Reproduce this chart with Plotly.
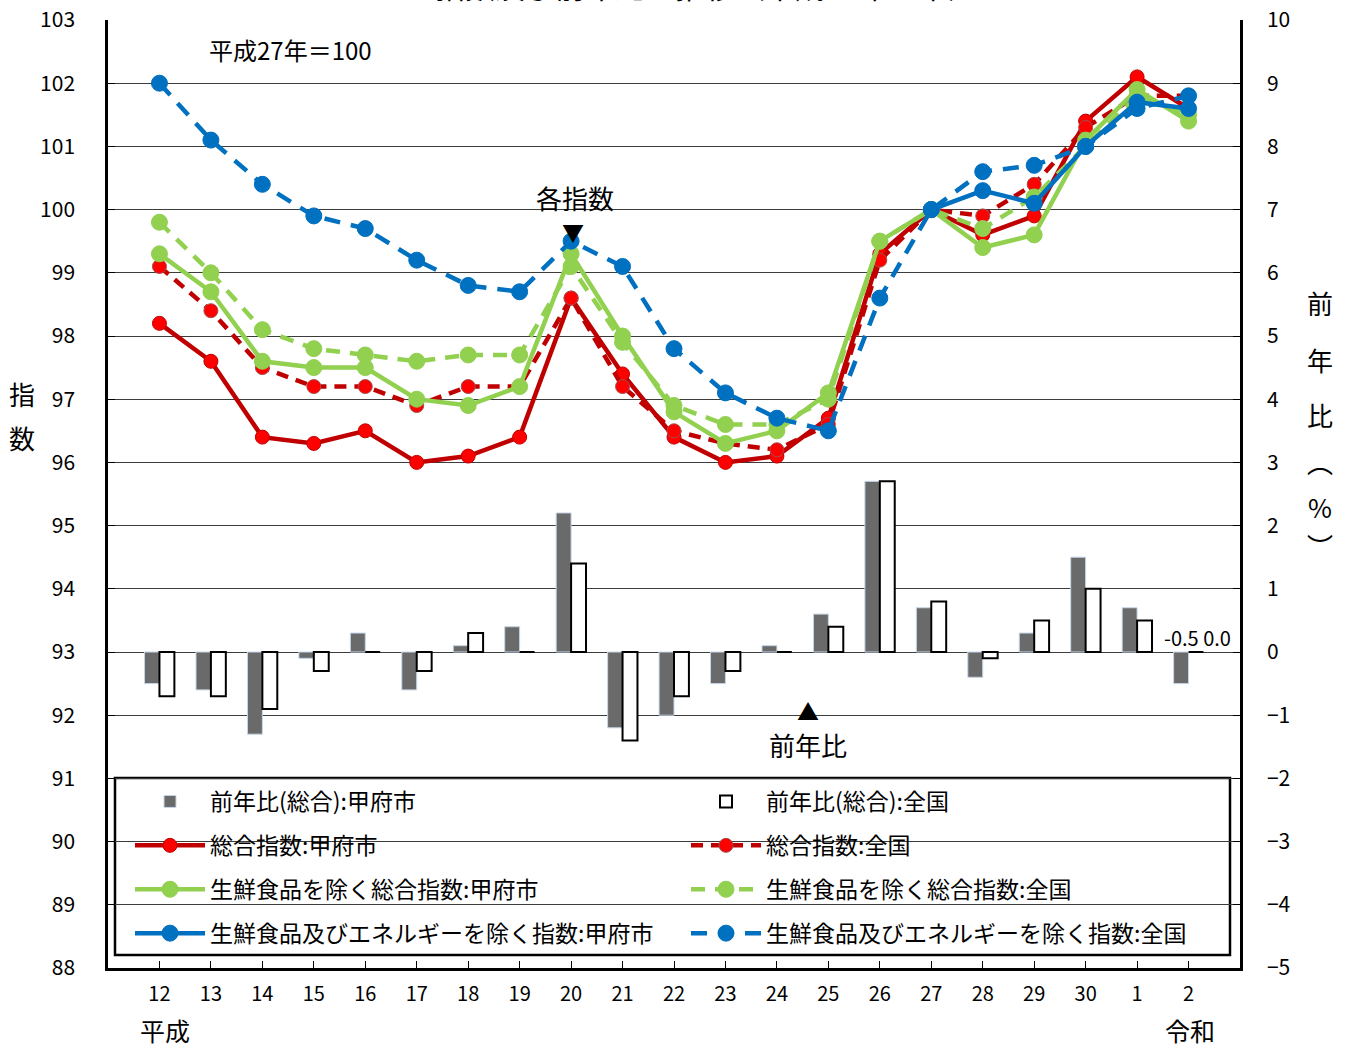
import plotly.graph_objects as go

categories = ["12", "13", "14", "15", "16", "17", "18", "19", "20", "21",
              "22", "23", "24", "25", "26", "27", "28", "29", "30", "1", "2"]

# 前年比（総合）(%)
yoy_kofu = [-0.5, -0.6, -1.3, -0.1, 0.3, -0.6, 0.1, 0.4, 2.2, -1.2,
            -1.0, -0.5, 0.1, 0.6, 2.7, 0.7, -0.4, 0.3, 1.5, 0.7, -0.5]
yoy_japan = [-0.7, -0.7, -0.9, -0.3, 0.0, -0.3, 0.3, 0.0, 1.4, -1.4,
             -0.7, -0.3, 0.0, 0.4, 2.7, 0.8, -0.1, 0.5, 1.0, 0.5, 0.0]

# 総合指数
total_kofu = [98.2, 97.6, 96.4, 96.3, 96.5, 96.0, 96.1, 96.4, 98.6, 97.4,
              96.4, 96.0, 96.1, 96.7, 99.3, 100.0, 99.6, 99.9, 101.4, 102.1, 101.6]
total_japan = [99.1, 98.4, 97.5, 97.2, 97.2, 96.9, 97.2, 97.2, 98.6, 97.2,
               96.5, 96.3, 96.2, 96.6, 99.2, 100.0, 99.9, 100.4, 101.3, 101.8, 101.8]

# 生鮮食品を除く総合指数
core_kofu = [99.3, 98.7, 97.6, 97.5, 97.5, 97.0, 96.9, 97.2, 99.3, 98.0,
             96.8, 96.3, 96.5, 97.1, 99.5, 100.0, 99.4, 99.6, 101.1, 101.9, 101.4]
core_japan = [99.8, 99.0, 98.1, 97.8, 97.7, 97.6, 97.7, 97.7, 99.1, 97.9,
              96.9, 96.6, 96.6, 97.0, 99.5, 100.0, 99.7, 100.2, 101.0, 101.8, 101.5]

# 生鮮食品及びエネルギーを除く指数
cc_kofu = [None, None, None, None, None, None, None, None, None, None,
           None, None, None, None, None, 100.0, 100.3, 100.1, 101.0, 101.7, 101.6]
cc_japan = [102.0, 101.1, 100.4, 99.9, 99.7, 99.2, 98.8, 98.7, 99.5, 99.1,
            97.8, 97.1, 96.7, 96.5, 98.6, 100.0, 100.6, 100.7, 101.0, 101.6, 101.8]

left_ticks = list(range(88, 104))
right_ticks = list(range(-5, 11))

xs = list(range(len(categories)))
FONT = "Noto Sans CJK JP"

RED_LINE = "#C00000"
RED_MK = "#FF0000"
GREEN = "#92D050"
BLUE = "#0070C0"

fig = go.Figure()

fig.add_trace(go.Bar(
    x=xs, y=yoy_kofu, name="前年比(総合):甲府市", yaxis="y",
    marker=dict(color="#6a6a6a", line=dict(color="#c6d6ea", width=1)),
    legend="legend", legendgroup="g1"))
fig.add_trace(go.Bar(
    x=xs, y=yoy_japan, name="前年比(総合):全国", yaxis="y",
    marker=dict(color="white", line=dict(color="black", width=2)),
    legend="legend2", legendgroup="g2"))

def line_trace(vals, name, color, mk, dash, size, mkline, legend, grp):
    return go.Scatter(
        x=xs, y=vals, name=name, yaxis="y2", mode="lines+markers",
        line=dict(color=color, width=4.5, dash=dash),
        marker=dict(color=mk, size=size, line=dict(color=mkline, width=1)),
        connectgaps=False, legend=legend, legendgroup=grp)

fig.add_trace(line_trace(total_kofu, "総合指数:甲府市", RED_LINE, RED_MK, "solid", 14,
                         "#C00000", "legend", "g3"))
fig.add_trace(line_trace(total_japan, "総合指数:全国", RED_LINE, RED_MK, "12px,8px", 14,
                         "#a05050", "legend2", "g4"))
fig.add_trace(line_trace(core_kofu, "生鮮食品を除く総合指数:甲府市", GREEN, GREEN, "solid", 16,
                         GREEN, "legend", "g5"))
fig.add_trace(line_trace(core_japan, "生鮮食品を除く総合指数:全国", GREEN, GREEN, "14px,10px", 16,
                         GREEN, "legend2", "g6"))
fig.add_trace(line_trace(cc_kofu, "生鮮食品及びエネルギーを除く指数:甲府市", BLUE, BLUE, "solid", 16,
                         BLUE, "legend", "g7"))
fig.add_trace(line_trace(cc_japan, "生鮮食品及びエネルギーを除く指数:全国", BLUE, BLUE, "16px,11px", 16,
                         BLUE, "legend2", "g8"))

PW, PH, L, T = 1132, 948, 108, 20

def px(xp):
    return (xp - L) / PW

def py(yp):
    return (T + PH - yp) / PH

ann = []
def add(text, x, y, size, yanchor="middle"):
    ann.append(dict(text=text, x=px(x), y=py(y), xref="paper", yref="paper",
                    xanchor="center", yanchor=yanchor, showarrow=False,
                    font=dict(family=FONT, size=size, color="black")))

add("指数及び前年比の推移（平成27年基準）", 706, 9, 30, yanchor="bottom")
add("平成27年＝100", 290, 49, 24)
add("各指数", 575, 197, 26)
add("▼", 573, 231, 22)
add("▲", 808, 710, 22)
add("前年比", 808, 745, 26)
add("平成", 165, 1030, 25)
add("令和", 1190, 1030, 25)
add("指", 22, 393, 26)
add("数", 22, 437, 26)
for ch, yy in zip(["前", "年", "比", "︵", "%", "︶"], [303, 359, 414, 462, 506, 545]):
    add(ch, 1320, yy, 26)

ann.append(dict(text="-0.5 0.0", x=xs[-1], y=yoy_japan[-1], xref="x", yref="y",
                xanchor="center", yanchor="middle",
                xshift=9, yshift=15, showarrow=False,
                font=dict(family=FONT, size=20, color="black")))

fig.update_layout(
    width=1353, height=1050, autosize=False,
    margin=dict(l=L, r=1353 - L - PW, t=T, b=1050 - T - PH, pad=0, autoexpand=False),
    paper_bgcolor="white", plot_bgcolor="white",
    font=dict(family=FONT, color="black"),
    barmode="group", bargap=0.42, bargroupgap=0,
    xaxis=dict(range=[-1, 21], tickmode="array", tickvals=xs, ticktext=categories,
               showgrid=False, zeroline=False, showline=True, linecolor="black",
               linewidth=2.5, ticks="inside", ticklen=7, tickcolor="black",
               tickfont=dict(family=FONT, size=20), ticklabelstandoff=6),
    yaxis=dict(range=[-5, 10], side="right", tickmode="array", tickvals=right_ticks,
               showgrid=True, gridcolor="#3c3c3c", gridwidth=1, zeroline=False,
               showline=True, linecolor="black", linewidth=2.5, ticks="inside",
               ticklen=7, tickcolor="black", tickfont=dict(family=FONT, size=21),
               ticklabelstandoff=20),
    yaxis2=dict(range=[88, 103], side="left", overlaying="y", tickmode="array",
                tickvals=left_ticks, showgrid=False, zeroline=False, showline=True,
                linecolor="black", linewidth=2.5, ticks="inside", ticklen=7,
                tickcolor="black", tickfont=dict(family=FONT, size=21),
                ticklabelstandoff=26),
    legend=dict(x=px(130), y=py(780), xanchor="left", yanchor="top",
                orientation="v", bgcolor="rgba(0,0,0,0)", borderwidth=0,
                font=dict(family=FONT, size=23), itemwidth=70, tracegroupgap=11,
                traceorder="grouped"),
    legend2=dict(x=px(686), y=py(780), xanchor="left", yanchor="top",
                 orientation="v", bgcolor="rgba(0,0,0,0)", borderwidth=0,
                 font=dict(family=FONT, size=23), itemwidth=70, tracegroupgap=11,
                 traceorder="grouped"),
    shapes=[dict(type="rect", xref="paper", yref="paper",
                 x0=px(115), x1=px(1230), y0=py(955), y1=py(778),
                 line=dict(color="black", width=2.5), fillcolor="white", layer="between")],
    annotations=ann,
    showlegend=True,
)

fig.write_html("out.html", config={"displayModeBar": False},
               post_script="document.body.style.margin='0';document.body.style.overflow='hidden';")
